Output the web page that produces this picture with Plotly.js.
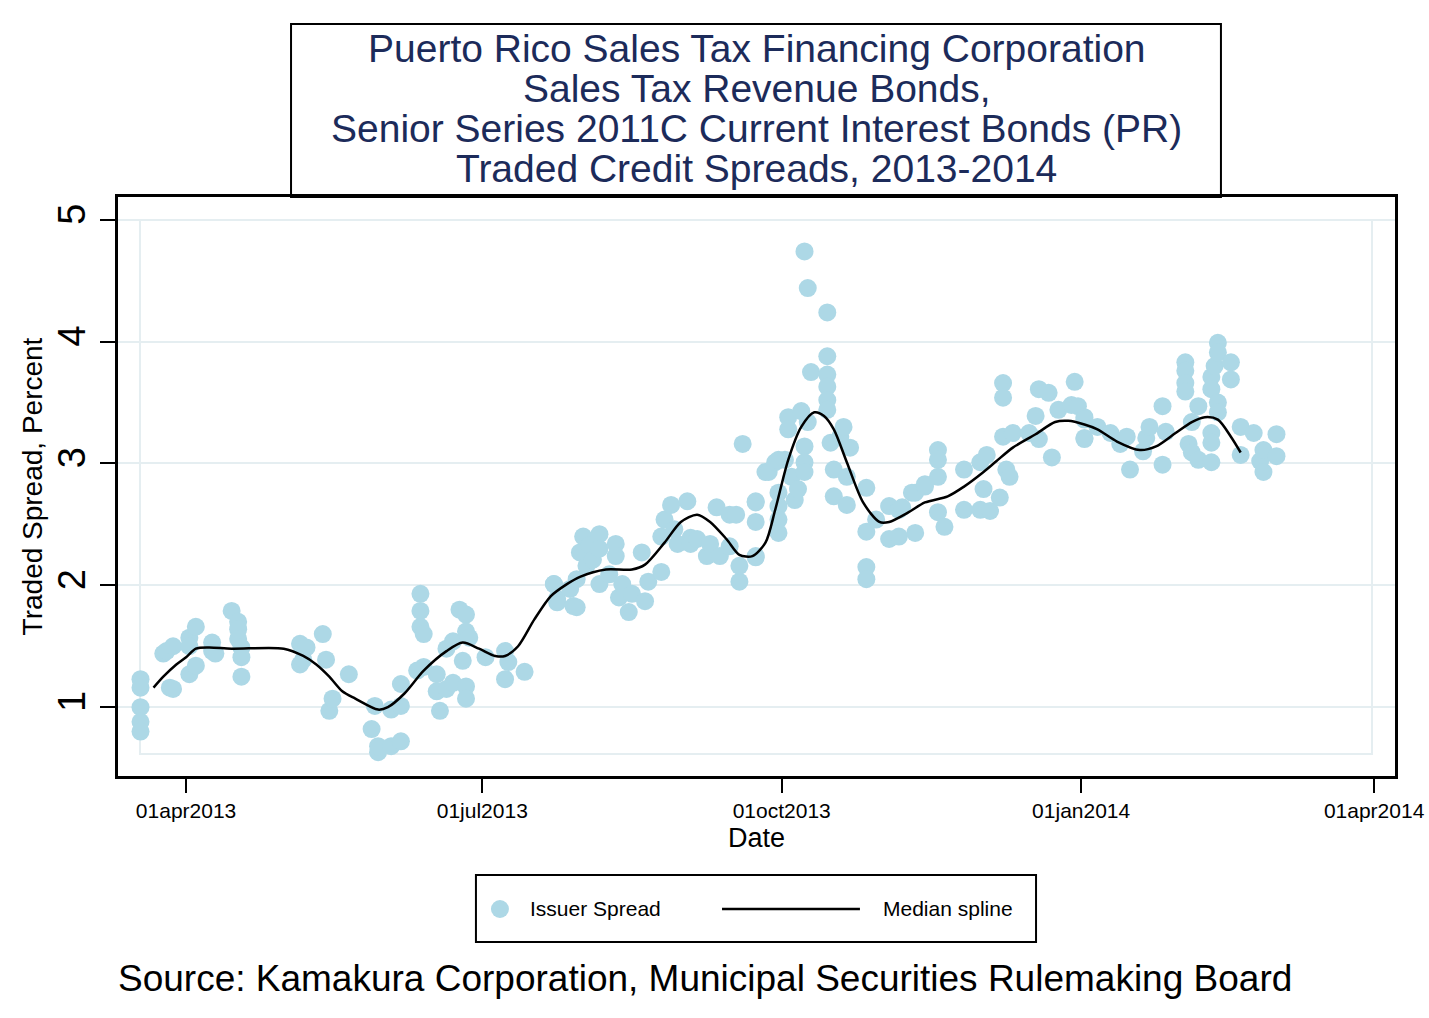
<!DOCTYPE html>
<html>
<head>
<meta charset="utf-8">
<script src="https://cdn.plot.ly/plotly-3.0.1.min.js"></script>
<style>html,body{margin:0;padding:0;background:#fff;}#chart{width:1429px;height:1018px;}</style>
</head>
<body>
<div id="chart"></div>
<script>
// ---- Data ----
const titleLines = [
  "Puerto Rico Sales Tax Financing Corporation",
  "Sales Tax Revenue Bonds,",
  "Senior Series 2011C Current Interest Bonds (PR)",
  "Traded Credit Spreads, 2013-2014"
];
const sourceText = "Source: Kamakura Corporation, Municipal Securities Rulemaking Board";
const seriesNames = ['Issuer Spread', 'Median spline'];

const spreadDates = [
 '2013-03-18','2013-03-18','2013-03-18','2013-03-18','2013-03-18','2013-03-25','2013-03-26','2013-03-27','2013-03-28','2013-03-28',
 '2013-04-02','2013-04-02','2013-04-02','2013-04-04','2013-04-04','2013-04-09','2013-04-09','2013-04-10','2013-04-15','2013-04-17',
 '2013-04-17','2013-04-17','2013-04-18','2013-04-18','2013-04-18','2013-05-06','2013-05-06','2013-05-07','2013-05-08','2013-05-13',
 '2013-05-14','2013-05-15','2013-05-16','2013-05-21','2013-05-28','2013-05-29','2013-05-30','2013-05-30','2013-06-03','2013-06-03',
 '2013-06-06','2013-06-06','2013-06-06','2013-06-11','2013-06-12','2013-06-12','2013-06-12','2013-06-13','2013-06-13','2013-06-17',
 '2013-06-17','2013-06-18','2013-06-20','2013-06-20','2013-06-22','2013-06-22','2013-06-24','2013-06-25','2013-06-26','2013-06-26',
 '2013-06-26','2013-06-26','2013-06-27','2013-07-02','2013-07-08','2013-07-08','2013-07-09','2013-07-14','2013-07-23','2013-07-23',
 '2013-07-24','2013-07-24','2013-07-28','2013-07-29','2013-07-30','2013-07-30','2013-07-31','2013-08-01','2013-08-02','2013-08-03',
 '2013-08-04','2013-08-06','2013-08-06','2013-08-06','2013-08-09','2013-08-11','2013-08-11','2013-08-12','2013-08-13','2013-08-15',
 '2013-08-16','2013-08-19','2013-08-20','2013-08-21','2013-08-25','2013-08-25','2013-08-26','2013-08-28','2013-08-29','2013-08-30',
 '2013-09-02','2013-09-03','2013-09-03','2013-09-05','2013-09-08','2013-09-09','2013-09-11','2013-09-12','2013-09-15','2013-09-15',
 '2013-09-17','2013-09-18','2013-09-18','2013-09-19','2013-09-23','2013-09-23','2013-09-23','2013-09-23','2013-09-23','2013-09-26',
 '2013-09-27','2013-09-29','2013-09-30','2013-09-30','2013-09-30','2013-09-30','2013-09-30','2013-10-02','2013-10-03','2013-10-03',
 '2013-10-04','2013-10-05','2013-10-06','2013-10-07','2013-10-08','2013-10-08','2013-10-08','2013-10-08','2013-10-09','2013-10-09',
 '2013-10-10','2013-10-15','2013-10-15','2013-10-15','2013-10-15','2013-10-15','2013-10-15','2013-10-16','2013-10-17','2013-10-17',
 '2013-10-19','2013-10-20','2013-10-21','2013-10-21','2013-10-22','2013-10-27','2013-10-27','2013-10-27','2013-10-27','2013-10-30',
 '2013-11-03','2013-11-03','2013-11-06','2013-11-06','2013-11-07','2013-11-10','2013-11-11','2013-11-11','2013-11-14','2013-11-14',
 '2013-11-18','2013-11-18','2013-11-18','2013-11-18','2013-11-20','2013-11-26','2013-11-26','2013-12-01','2013-12-01','2013-12-02',
 '2013-12-03','2013-12-04','2013-12-07','2013-12-08','2013-12-08','2013-12-08','2013-12-09','2013-12-10','2013-12-11','2013-12-16',
 '2013-12-18','2013-12-19','2013-12-19','2013-12-22','2013-12-23','2013-12-25','2013-12-29','2013-12-30','2013-12-31','2014-01-02',
 '2014-01-02','2014-01-02','2014-01-02','2014-01-06','2014-01-10','2014-01-13','2014-01-15','2014-01-16','2014-01-20','2014-01-21',
 '2014-01-22','2014-01-26','2014-01-26','2014-01-27','2014-02-02','2014-02-02','2014-02-02','2014-02-02','2014-02-03','2014-02-04',
 '2014-02-04','2014-02-06','2014-02-06','2014-02-10','2014-02-10','2014-02-10','2014-02-10','2014-02-10','2014-02-11','2014-02-12',
 '2014-02-12','2014-02-12','2014-02-12','2014-02-16','2014-02-16','2014-02-19','2014-02-19','2014-02-23','2014-02-25','2014-02-26',
 '2014-02-26','2014-03-02','2014-03-02'
];
const spreadValues = [
 1.23,1.16,1.00,0.88,0.80,1.44,1.46,1.16,1.50,1.15,
 1.57,1.50,1.27,1.66,1.34,1.53,1.46,1.44,1.79,1.70,
 1.64,1.56,1.49,1.41,1.25,1.52,1.35,1.39,1.49,1.60,
 1.39,0.97,1.07,1.27,0.82,1.01,0.63,0.68,0.98,0.68,
 1.01,1.19,0.72,1.30,1.93,1.79,1.66,1.60,1.33,1.27,
 1.13,0.97,1.15,1.48,1.54,1.20,1.80,1.38,1.76,1.62,
 1.17,1.07,1.57,1.41,1.46,1.23,1.37,1.29,2.01,2.01,
 1.89,1.86,1.97,1.83,1.82,2.05,2.27,2.40,2.16,2.33,
 2.21,2.42,2.01,2.30,2.09,2.34,2.24,1.90,2.01,1.78,
 1.93,2.27,1.87,2.03,2.40,2.11,2.54,2.66,2.46,2.34,
 2.69,2.39,2.34,2.38,2.24,2.34,2.64,2.24,2.58,2.32,
 2.58,2.03,2.16,3.16,2.68,2.52,2.24,2.69,2.23,2.93,
 2.93,3.01,3.03,2.76,2.65,2.54,2.43,3.03,3.38,3.28,
 2.89,2.70,2.79,3.43,4.74,3.14,3.01,2.93,4.44,3.34,
 3.75,4.24,3.88,3.73,3.63,3.52,3.44,3.17,2.95,2.73,
 3.22,3.30,2.89,2.66,3.13,2.15,2.05,2.80,2.44,2.54,
 2.65,2.38,2.62,2.40,2.64,2.76,2.43,2.76,2.81,2.83,
 3.11,3.03,2.89,2.60,2.48,2.95,2.62,3.01,2.62,2.79,
 3.07,2.61,2.72,3.66,3.54,3.22,2.95,2.89,3.25,3.25,
 3.39,3.61,3.20,3.58,3.05,3.44,3.48,3.67,3.47,3.38,
 3.20,3.36,3.21,3.30,3.25,3.16,3.22,2.95,3.10,3.21,
 3.30,3.47,2.99,3.26,3.83,3.76,3.66,3.59,3.16,3.34,
 3.09,3.47,3.03,3.71,3.61,3.01,3.25,3.17,3.80,3.99,
 3.91,3.50,3.42,3.83,3.69,3.30,3.07,3.25,3.02,3.11,
 2.93,3.24,3.06
];

const splineDates = [
 '2013-03-22','2013-03-25','2013-03-29','2013-04-01','2013-04-04','2013-04-08','2013-04-15','2013-05-01','2013-05-07','2013-05-11',
 '2013-05-15','2013-05-19','2013-05-23','2013-05-30','2013-06-02','2013-06-07','2013-06-13','2013-06-20','2013-06-25','2013-06-30',
 '2013-07-05','2013-07-08','2013-07-12','2013-07-17','2013-07-22','2013-07-27','2013-07-31','2013-08-08','2013-08-16','2013-08-20',
 '2013-08-26','2013-08-31','2013-09-05','2013-09-09','2013-09-14','2013-09-18','2013-09-22','2013-09-26','2013-09-29','2013-10-03',
 '2013-10-07','2013-10-11','2013-10-14','2013-10-17','2013-10-21','2013-10-26','2013-10-31','2013-11-03','2013-11-09','2013-11-14',
 '2013-11-21','2013-11-26','2013-12-02','2013-12-06','2013-12-11','2013-12-18','2013-12-24','2013-12-28','2014-01-02','2014-01-06',
 '2014-01-12','2014-01-19','2014-01-24','2014-01-30','2014-02-04','2014-02-08','2014-02-12','2014-02-16','2014-02-19'
];
const splineValues = [
 1.16,1.25,1.35,1.41,1.48,1.49,1.48,1.48,1.42,1.35,
 1.25,1.13,1.07,0.98,1.00,1.11,1.30,1.46,1.53,1.48,
 1.42,1.42,1.50,1.72,1.91,2.01,2.07,2.13,2.13,2.17,
 2.35,2.52,2.58,2.52,2.38,2.25,2.24,2.35,2.62,3.03,
 3.30,3.42,3.39,3.28,3.01,2.68,2.52,2.52,2.60,2.68,
 2.73,2.81,2.93,3.02,3.13,3.24,3.34,3.35,3.32,3.28,
 3.18,3.11,3.14,3.25,3.34,3.38,3.36,3.22,3.09
];

const xTickVals = ['2013-04-01','2013-07-01','2013-10-01','2014-01-01','2014-04-01'];
const xTickText = ['01apr2013','01jul2013','01oct2013','01jan2014','01apr2014'];
const yTickVals = [1,2,3,4,5];
const yTickText = ['1','2','3','4','5'];

// ---- Chart ----
const FONT = 'Liberation Sans, Arial, sans-serif';
const GRID = '#e5eef1';
const NAVY = '#1c2b5a';
const DOT = '#add8e6';

const traces = [
  {
    type: 'scatter', mode: 'markers', name: seriesNames[0],
    x: spreadDates, y: spreadValues,
    marker: {color: DOT, size: 18, line: {width: 0}},
    hoverinfo: 'x+y', showlegend: false
  },
  {
    type: 'scatter', mode: 'lines', name: seriesNames[1],
    x: splineDates, y: splineValues,
    line: {color: '#000000', width: 2.5, shape: 'spline', smoothing: 0.8},
    showlegend: false
  }
];

const annotations = titleLines.map((t, i) => ({
  text: t, xref: 'paper', yref: 'paper', x: 0.5, y: 1.2573 - i * 0.06908,
  xanchor: 'center', yanchor: 'middle', showarrow: false,
  font: {family: FONT, size: 39, color: NAVY}
}));
annotations.push({
  text: sourceText, xref: 'paper', yref: 'paper', x: 0.4597, y: -0.349,
  xanchor: 'center', yanchor: 'middle', showarrow: false,
  font: {family: FONT, size: 37, color: '#000'}
});
// legend texts
annotations.push({
  text: seriesNames[0], xref: 'paper', yref: 'paper', x: 0.3210, y: -0.2297,
  xanchor: 'left', yanchor: 'middle', showarrow: false,
  font: {family: FONT, size: 21, color: '#000'}
});
annotations.push({
  text: seriesNames[1], xref: 'paper', yref: 'paper', x: 0.5975, y: -0.2297,
  xanchor: 'left', yanchor: 'middle', showarrow: false,
  font: {family: FONT, size: 21, color: '#000'}
});

const layout = {
  width: 1429, height: 1018,
  margin: {l: 118, r: 34, t: 197, b: 242, pad: 0},
  paper_bgcolor: '#ffffff', plot_bgcolor: '#ffffff',
  font: {family: FONT, color: '#000'},
  showlegend: false,
  xaxis: {
    type: 'date',
    range: ['2013-03-11 02:00', '2014-04-07 10:00'],
    tickmode: 'array', tickvals: xTickVals, ticktext: xTickText,
    ticks: 'outside', ticklen: 14, tickwidth: 2, tickcolor: '#000',
    tickfont: {family: FONT, size: 21, color: '#000'},
    showline: true, linecolor: '#000', linewidth: 3, mirror: true,
    showgrid: false, zeroline: false,
    title: {text: 'Date', font: {family: FONT, size: 27, color: '#000'}, standoff: 7},
    automargin: false
  },
  yaxis: {
    range: [0.435, 5.187],
    tickmode: 'array', tickvals: yTickVals, ticktext: yTickText,
    tickangle: -90,
    ticks: 'outside', ticklen: 15, tickwidth: 2, tickcolor: '#000',
    ticklabelstandoff: 0,
    tickfont: {family: FONT, size: 38, color: '#000'},
    showline: true, linecolor: '#000', linewidth: 3, mirror: true,
    showgrid: true, gridcolor: GRID, gridwidth: 2, zeroline: false,
    title: {text: 'Traded Spread, Percent', font: {family: FONT, size: 28, color: '#000'}, standoff: 0},
    automargin: false
  },
  shapes: [
    // inner plot-region outline
    {type: 'rect', xref: 'paper', yref: 'paper', x0: 0.0172, x1: 0.982, y0: 0.038, y1: 0.9603,
     line: {color: GRID, width: 2}, fillcolor: 'rgba(0,0,0,0)', layer: 'below'},
    // title box
    {type: 'rect', xref: 'paper', yref: 'paper', x0: 0.1355, x1: 0.8637, y0: 1.0, y1: 1.2988,
     line: {color: '#000', width: 2}, fillcolor: 'rgba(0,0,0,0)'},
    // legend box
    {type: 'rect', xref: 'paper', yref: 'paper', x0: 0.2803, x1: 0.7189, y0: -0.2867, y1: -0.171,
     line: {color: '#000', width: 2}, fillcolor: '#ffffff'},
    // legend marker sample
    {type: 'circle', xref: 'paper', yref: 'paper', xsizemode: 'pixel', ysizemode: 'pixel',
     xanchor: 0.2991, yanchor: -0.2297, x0: -9, x1: 9, y0: -9, y1: 9,
     fillcolor: DOT, line: {width: 0}},
    // legend line sample
    {type: 'line', xref: 'paper', yref: 'paper', x0: 0.473, x1: 0.581, y0: -0.2297, y1: -0.2297,
     line: {color: '#000', width: 2.5}}
  ],
  annotations: annotations
};

Plotly.newPlot('chart', traces, layout, {displayModeBar: false, responsive: false});
</script>
</body>
</html>
